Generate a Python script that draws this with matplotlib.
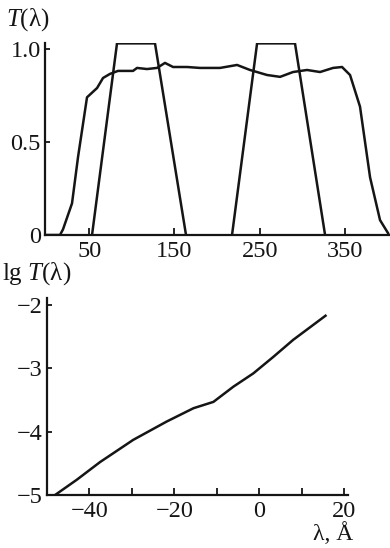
import numpy as np
import matplotlib
matplotlib.use('Agg')
import matplotlib.pyplot as plt

# upper panel: transmission T(lambda)
wl_broad = [-1.9, 15.7, 19.2, 29.8, 36.9, 47.4, 59.2, 66.2, 74.4, 83.8, 101.4, 106.1,
            117.8, 129.6, 138.9, 148.4, 164.8, 180.0, 203.5, 223.5, 238.7, 258.7,
            274.0, 289.2, 305.6, 320.9, 336.2, 346.7, 356.1, 367.8, 379.6, 391.3, 400.7]
t_broad = [0.0, 0.0, 0.03, 0.17, 0.42, 0.74, 0.79, 0.844, 0.866, 0.882, 0.882, 0.898,
           0.892, 0.898, 0.925, 0.903, 0.903, 0.898, 0.898, 0.914, 0.887, 0.86,
           0.85, 0.876, 0.887, 0.876, 0.898, 0.903, 0.86, 0.69, 0.31, 0.08, 0.01]

wl_band1 = [53.3, 82.6, 127.2, 163.6]
wl_band2 = [217.6, 247.0, 291.5, 326.8]
t_band = [0.0, 1.03, 1.03, 0.0]

top_xticks = [50, 150, 250, 350]
top_yticks = [0, 0.5, 1.0]
top_yticklabels = ['0', '0.5', '1.0']

# lower panel: lg T(lambda)
wl_log = [-48.1, -43.0, -37.5, -29.7, -21.8, -15.5, -10.8, -6.1, -1.4, 3.3, 8.0, 15.6]
lgt_log = [-5.0, -4.76, -4.48, -4.13, -3.84, -3.63, -3.53, -3.29, -3.08, -2.82, -2.55, -2.17]

bot_xticks = [-40, -30, -20, -10, 0, 10, 20]
bot_xticklabels = ['\u221240', '', '\u221220', '', '0', '', '20']
bot_yticks = [-5, -4, -3, -2]
bot_yticklabels = ['\u22125', '\u22124', '\u22123', '\u22122']

plt.rcParams['font.family'] = ['Liberation Serif', 'DejaVu Serif']
plt.rcParams['mathtext.fontset'] = 'custom'
plt.rcParams['mathtext.it'] = 'Liberation Serif:italic'
plt.rcParams['mathtext.rm'] = 'Liberation Serif'

ink = '#151515'
W, H = 390, 548
fig = plt.figure(figsize=(W / 100, H / 100), dpi=100)


def style_axes(ax):
    for side in ['top', 'right']:
        ax.spines[side].set_visible(False)
    for side in ['left', 'bottom']:
        ax.spines[side].set_linewidth(1.6)
        ax.spines[side].set_color(ink)
    ax.tick_params(axis='x', direction='in', length=5, width=1.3, pad=4,
                   labelsize=17.5, colors=ink)
    ax.tick_params(axis='y', direction='in', length=3.5, width=1.3, pad=3,
                   labelsize=17.5, colors=ink)


ax1 = fig.add_axes([45 / W, 1 - 235 / H, (390 - 45) / W, (235 - 43) / H])
ax1.plot(wl_broad, t_broad, color=ink, lw=1.8)
ax1.plot(wl_band1, t_band, color=ink, lw=1.8)
ax1.plot(wl_band2, t_band, color=ink, lw=1.8)
ax1.set_xlim(-1.9, 403)
ax1.set_ylim(0, 1.032)
ax1.set_xticks(top_xticks)
ax1.set_yticks(top_yticks)
ax1.set_yticklabels(top_yticklabels)
style_axes(ax1)

ax2 = fig.add_axes([47 / W, 1 - 495 / H, (348 - 47) / W, (495 - 298) / H])
ax2.plot(wl_log, lgt_log, color=ink, lw=1.8)
ax2.set_xlim(-50, 20.9)
ax2.set_ylim(-5, -1.89)
ax2.set_xticks(bot_xticks)
ax2.set_xticklabels(bot_xticklabels)
ax2.set_yticks(bot_yticks)
ax2.set_yticklabels(bot_yticklabels)
style_axes(ax2)

fig.text(6 / W, 1 - 20 / H, r'$T$(λ)', fontsize=18, va='center', ha='left', color=ink)
fig.text(2 / W, 1 - 274 / H, r'lg $T$(λ)', fontsize=18, va='center', ha='left', color=ink)
fig.text(333 / W, 1 - 534 / H, 'λ, Å', fontsize=17, va='center', ha='center', color=ink)

fig.savefig('out.png', dpi=100, facecolor='white')
